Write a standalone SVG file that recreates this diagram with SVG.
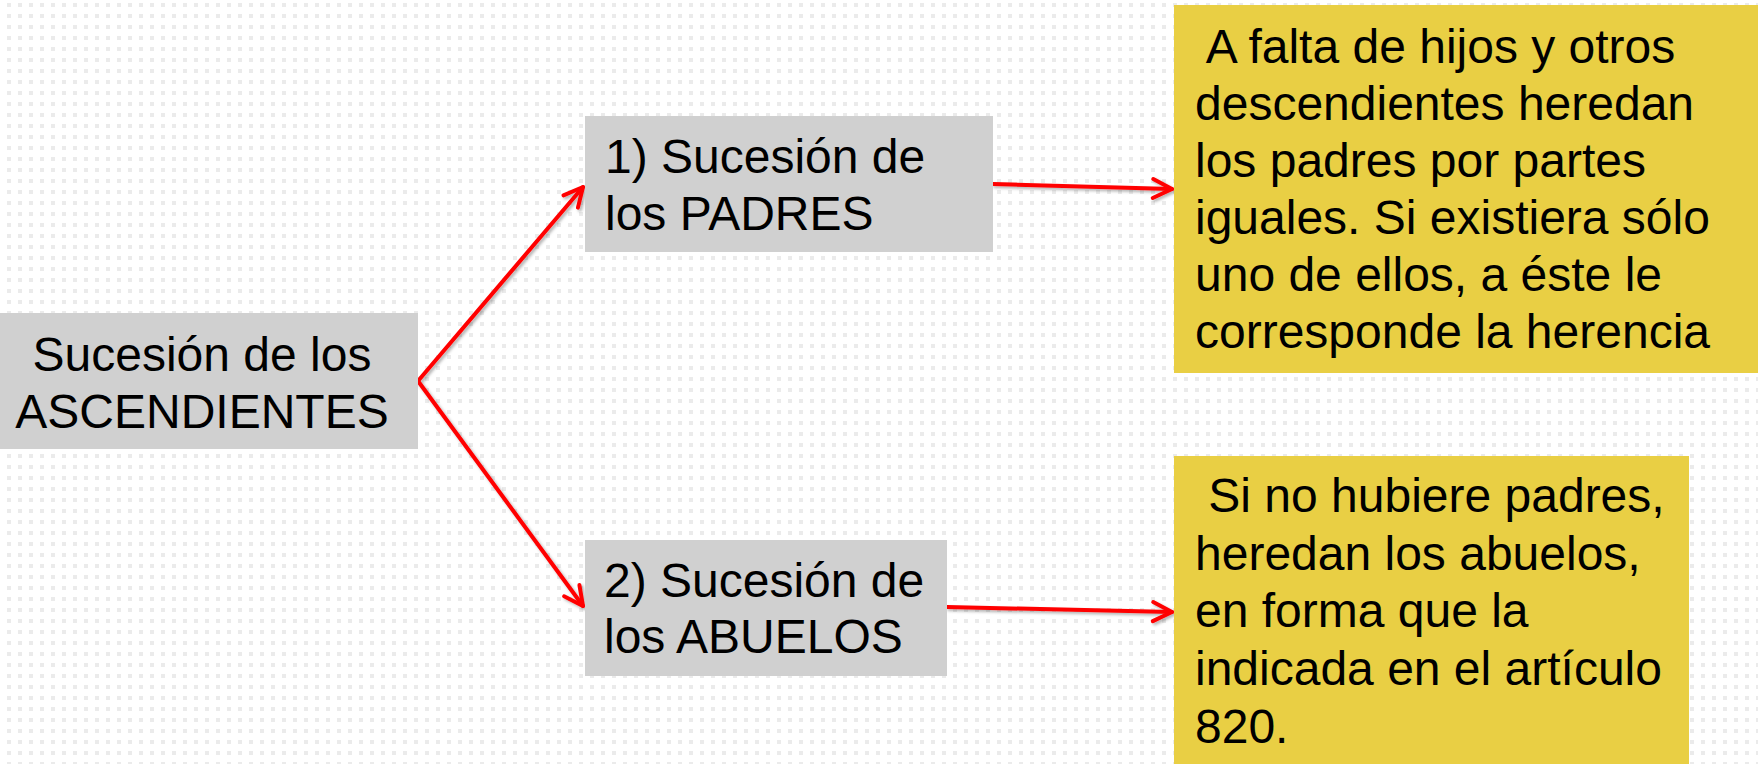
<svg xmlns="http://www.w3.org/2000/svg" width="1758" height="764" viewBox="0 0 1758 764">
<style>
.t{font-family:"Liberation Sans",Arial,sans-serif;font-size:48px;fill:#000}
.gray{fill:#d0d0d0}
.yel{fill:#e9cf44}
.con{stroke:#ff0000;stroke-width:4;fill:none;stroke-linecap:round}
</style>
<defs>
<pattern id="dots" x="0" y="0" width="11" height="11" patternUnits="userSpaceOnUse">
<rect x="7" y="3" width="5" height="4" fill="#ebebeb"/>
</pattern>
<filter id="sh" x="-10%" y="-10%" width="120%" height="120%">
<feDropShadow dx="2" dy="2" stdDeviation="1.5" flood-color="#000" flood-opacity="0.3"/>
</filter>
<marker id="ah" viewBox="0 0 26 26" refX="23" refY="13" markerWidth="26" markerHeight="26" markerUnits="userSpaceOnUse" orient="auto">
<path d="M4,3.5 L23,13 L4,22.5" fill="none" stroke="#ff0000" stroke-width="4" stroke-linecap="round" stroke-linejoin="round"/>
</marker>
</defs>
<rect width="1758" height="764" fill="#ffffff"/>
<rect width="1758" height="764" fill="url(#dots)"/>
<g id="connectors" filter="url(#sh)">
<line class="con" x1="418" y1="381" x2="583" y2="187" marker-end="url(#ah)"/>
<line class="con" x1="418" y1="381" x2="583" y2="606" marker-end="url(#ah)"/>
<line class="con" x1="993" y1="184" x2="1172" y2="189" marker-end="url(#ah)"/>
<line class="con" x1="947" y1="607" x2="1172" y2="612" marker-end="url(#ah)"/>
</g>
<g id="ascendientes">
<rect class="gray" x="0" y="313" width="418" height="136"/>
<text class="t" x="202" y="371" text-anchor="middle">Sucesión de los</text>
<text class="t" x="202" y="428" text-anchor="middle">ASCENDIENTES</text>
</g>
<g id="padres">
<rect class="gray" x="585" y="116" width="408" height="136"/>
<text class="t" x="605" y="173">1) Sucesión de</text>
<text class="t" x="605" y="230">los PADRES</text>
</g>
<g id="abuelos">
<rect class="gray" x="585" y="540" width="362" height="136"/>
<text class="t" x="604" y="597">2) Sucesión de</text>
<text class="t" x="604" y="653">los ABUELOS</text>
</g>
<g id="nota-padres">
<rect class="yel" x="1174" y="5" width="584" height="368"/>
<text class="t" x="1195" y="63" xml:space="preserve"> A falta de hijos y otros</text>
<text class="t" x="1195" y="120">descendientes heredan</text>
<text class="t" x="1195" y="177">los padres por partes</text>
<text class="t" x="1195" y="234">iguales. Si existiera sólo</text>
<text class="t" x="1195" y="291">uno de ellos, a éste le</text>
<text class="t" x="1195" y="348">corresponde la herencia</text>
</g>
<g id="nota-abuelos">
<rect class="yel" x="1174" y="456" width="515" height="308"/>
<text class="t" x="1195" y="512" xml:space="preserve"> Si no hubiere padres,</text>
<text class="t" x="1195" y="570">heredan los abuelos,</text>
<text class="t" x="1195" y="627">en forma que la</text>
<text class="t" x="1195" y="685">indicada en el artículo</text>
<text class="t" x="1195" y="743">820.</text>
</g>
</svg>
